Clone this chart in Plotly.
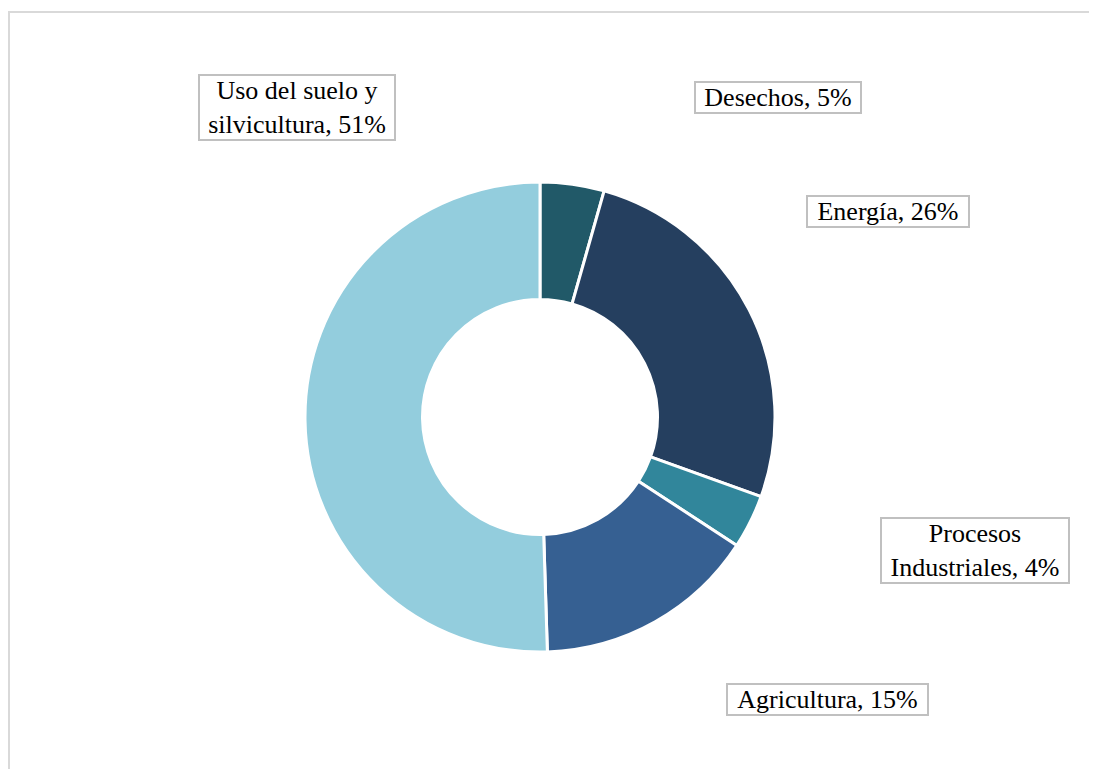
import plotly.graph_objects as go

# Emisiones por sector (orden horario desde arriba)
sectores = ["Desechos", "Energía", "Procesos Industriales", "Agricultura",
            "Uso del suelo y silvicultura"]
valores = [4.4, 26.1, 3.7, 15.3, 50.5]
etiquetas_texto = ["Desechos, 5%", "Energía, 26%", "Procesos<br>Industriales, 4%",
                   "Agricultura, 15%", "Uso del suelo y<br>silvicultura, 51%"]
colores = ["#215968", "#253f5f", "#31869b", "#366092", "#93cddd"]

# la página añade 8px de margen al body
OFF = 8
W, H = 1097 - OFF, 769 - OFF


def fx(px):
    return (px - OFF) / W


def fy(py):
    return 1 - (py - OFF) / H


fig = go.Figure(go.Pie(
    labels=sectores,
    values=valores,
    hole=0.5,
    sort=False,
    direction="clockwise",
    rotation=0,
    marker=dict(colors=colores, line=dict(color="white", width=3)),
    textinfo="none",
    showlegend=False,
    domain=dict(x=[fx(305), fx(775)], y=[fy(652), fy(182)]),
    hovertemplate="%{label}: %{value}<extra></extra>",
))

# centro (px) y ancho de cada caja de etiqueta
pos_cajas = [(778, 98, 168), (888, 211, 164), (975, 550, 190),
             (827, 699, 203), (297, 108, 198)]
for txt, (px, py, ancho) in zip(etiquetas_texto, pos_cajas):
    fig.add_annotation(
        x=fx(px), y=fy(py), xref="paper", yref="paper",
        text=txt, showarrow=False, width=ancho - 4,
        font=dict(family="Liberation Serif", size=26, color="#000000"),
        bordercolor="#c0c0c0", borderwidth=2, borderpad=0,
        bgcolor="white", xanchor="center", yanchor="middle", align="center",
    )

# marco del gráfico (superior e izquierdo)
fig.add_shape(type="line", xref="paper", yref="paper",
              x0=fx(8), x1=1, y0=fy(12), y1=fy(12),
              line=dict(color="#d9d9d9", width=2))
fig.add_shape(type="line", xref="paper", yref="paper",
              x0=fx(9), x1=fx(9), y0=0, y1=fy(12),
              line=dict(color="#d9d9d9", width=2))

fig.update_layout(
    width=W, height=H,
    margin=dict(l=0, r=0, t=0, b=0),
    paper_bgcolor="white",
    plot_bgcolor="white",
    font=dict(family="Liberation Serif", size=26, color="#000000"),
)

fig.write_html("out.html")
